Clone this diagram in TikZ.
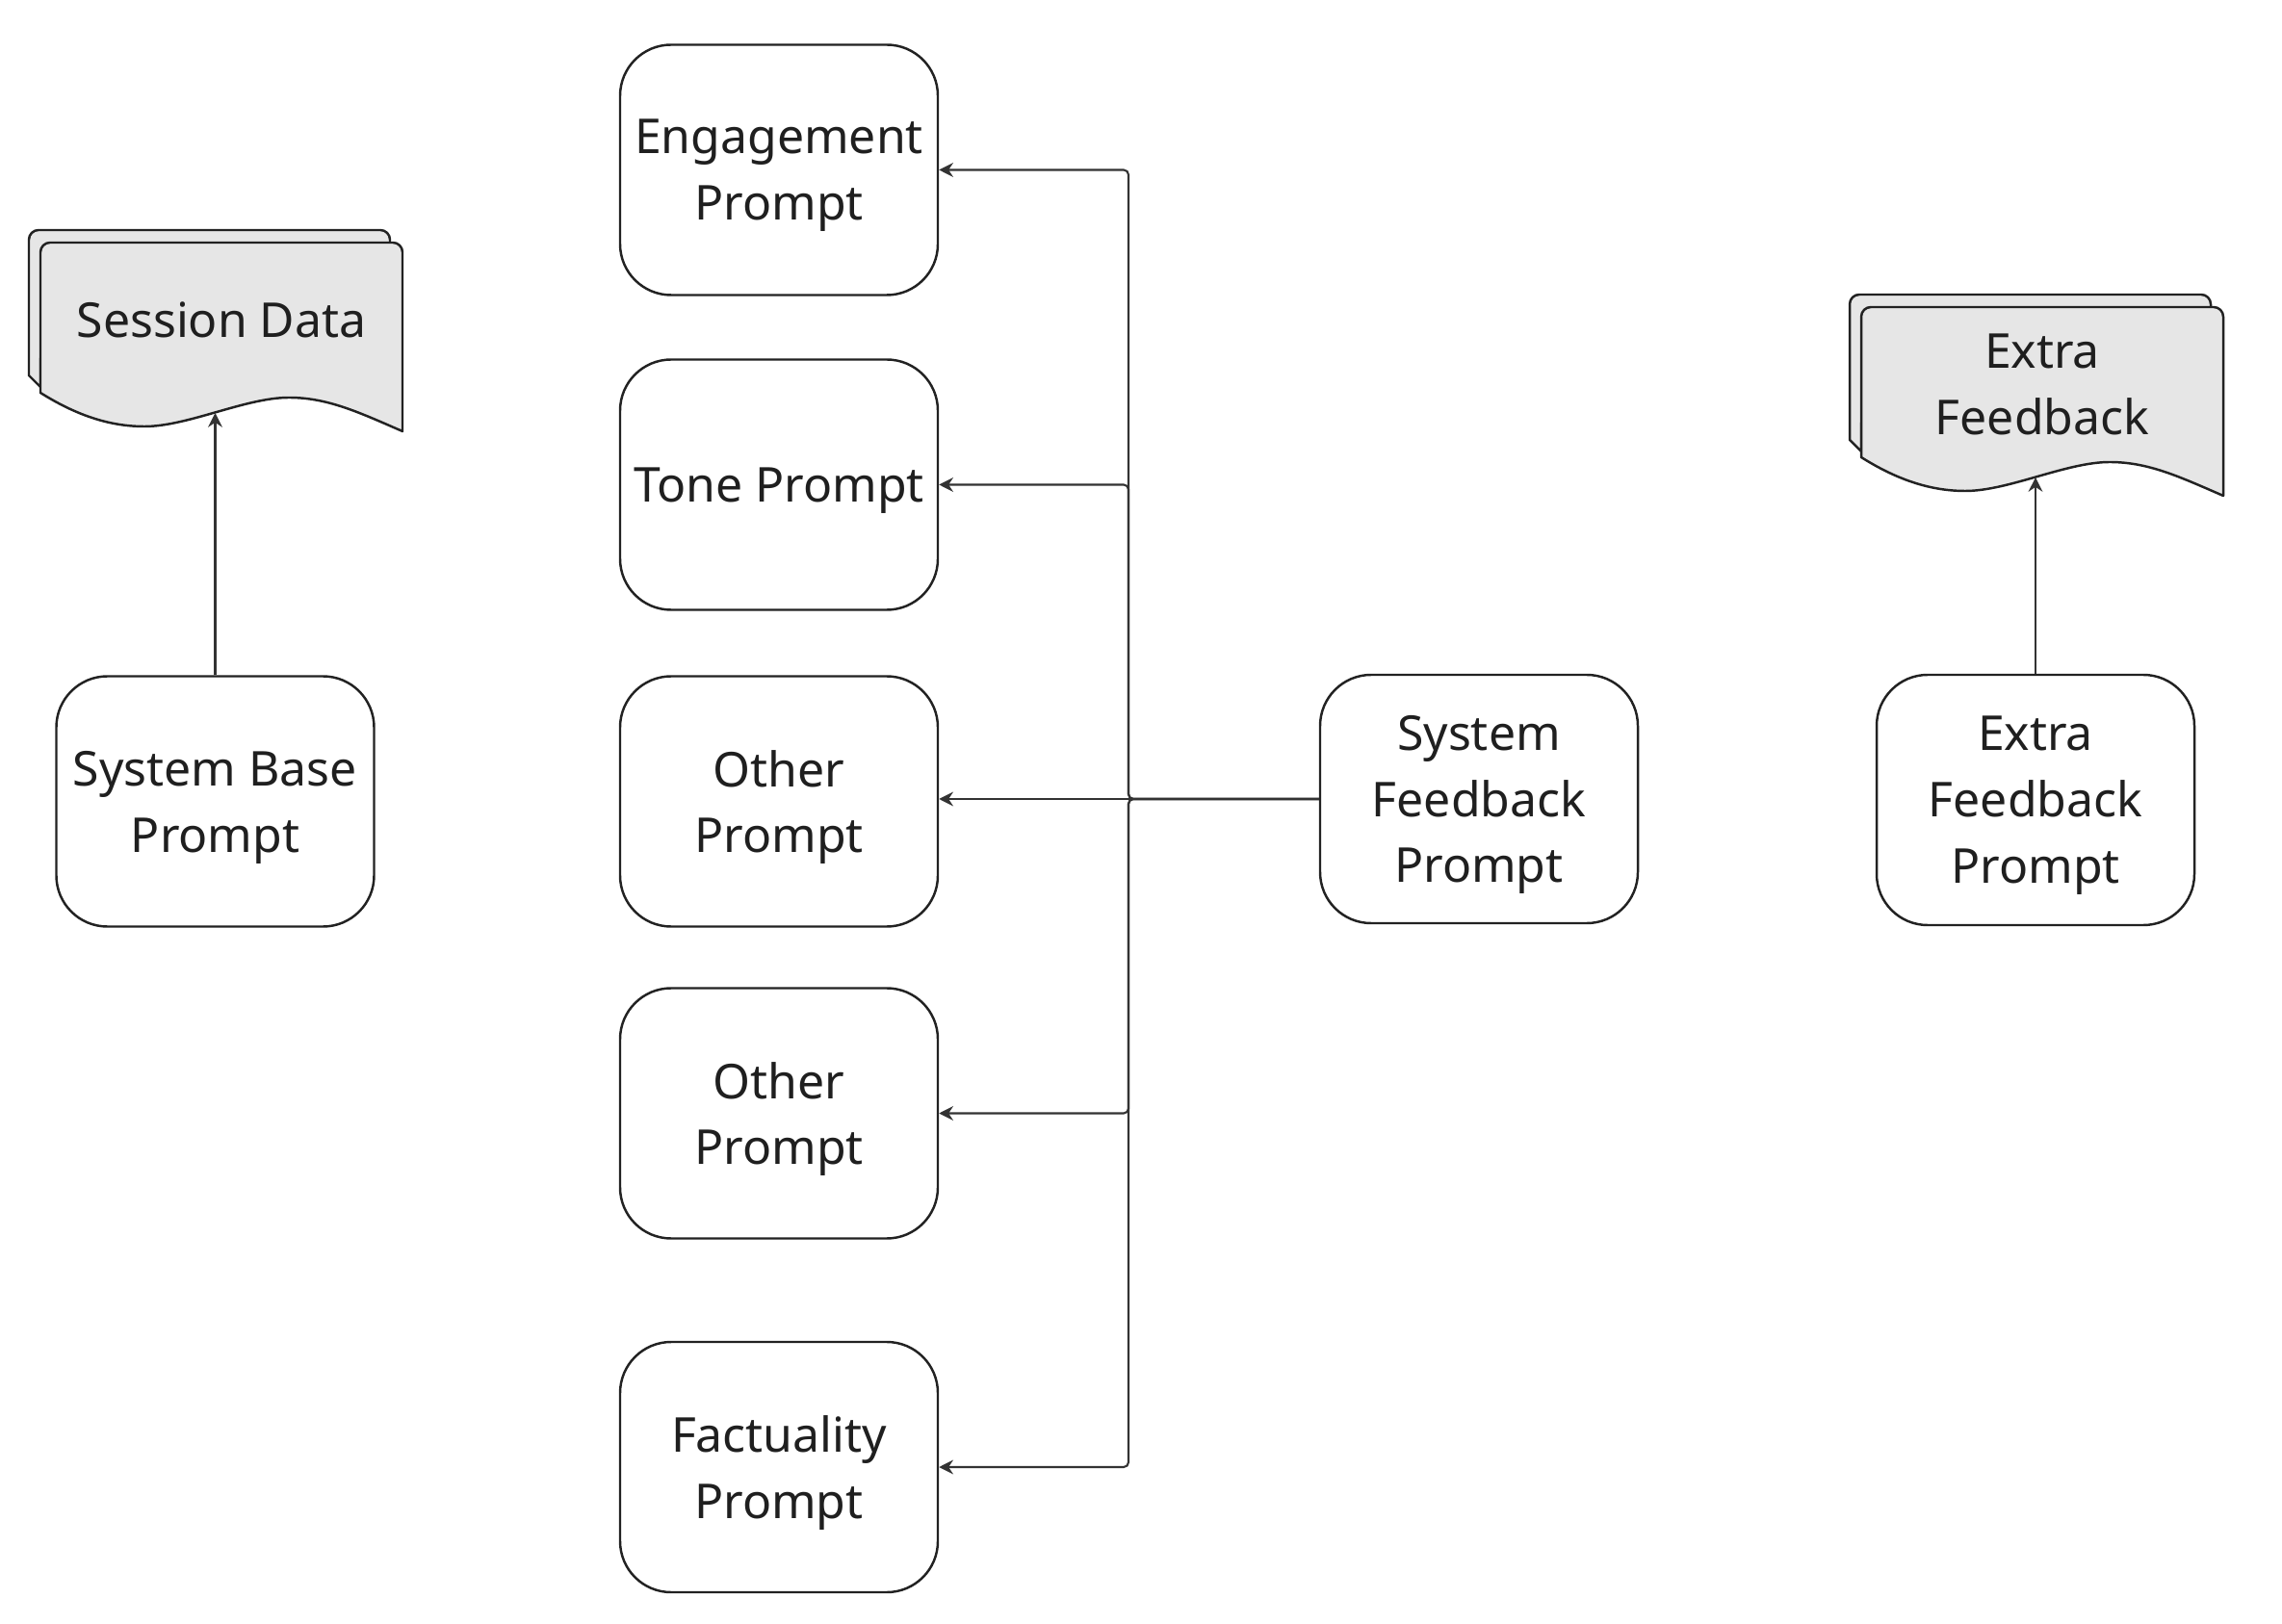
\documentclass[tikz,border=0pt]{standalone}
\usepackage{fontspec}
\setmainfont{Noto Sans}
\usetikzlibrary{arrows.meta}
\definecolor{ln}{HTML}{333333}
\definecolor{bx}{HTML}{222222}
\definecolor{docfill}{HTML}{E6E6E6}
\tikzset{
  box/.style={draw=bx, line width=0.7pt, rounded corners=0.53cm,
    minimum width=3.30cm, minimum height=2.60cm, align=center, inner sep=0pt,
    text depth=0pt, text=black!88, font=\fontsize{14.2}{19.6}\selectfont},
  lbl/.style={align=center, inner sep=0pt, text=black!88,
    font=\fontsize{14.2}{19.6}\selectfont},
  edge/.style={draw=ln, line width=0.6pt,
    -{Stealth[length=4.2pt,width=4.2pt,inset=1.4pt]}, rounded corners=0.05cm},
  docline/.style={draw=bx, line width=0.7pt, fill=docfill, line join=round}
}
\newcommand\docshape[2]{%
  \begin{scope}[shift={(#1,#2)}]
    \path[docline] (0,-1.50) -- (-0.12,-1.38) -- (-0.12,0.03)
      arc[start angle=180,end angle=90,radius=0.1] -- (3.53,0.13)
      arc[start angle=90,end angle=0,radius=0.1] -- (3.63,-1.2) -- (0,-1.2) -- cycle;
    \path[docline] (0,-1.56) -- (0,-0.1)
      arc[start angle=180,end angle=90,radius=0.1] -- (3.66,0)
      arc[start angle=90,end angle=0,radius=0.1] -- (3.76,-1.96)
      .. controls (3.30,-1.76) and (2.98,-1.61) .. (2.58,-1.61)
      .. controls (2.13,-1.61) and (1.53,-1.91) .. (1.08,-1.91)
      .. controls (0.70,-1.91) and (0.35,-1.78) .. (0,-1.56) -- cycle;
  \end{scope}}
\begin{document}
\begin{tikzpicture}
  \useasboundingbox (0,0) rectangle (23.70,-16.87);

  % documents
  \docshape{0.42}{-2.52}
  \node[lbl] (sd) at (2.30,-3.32) {Session Data};
  \coordinate (sdw) at (2.24,-4.29);

  \docshape{19.33}{-3.19}
  \node[lbl] (xf) at (21.21,-3.99) {Extra\\Feedback};
  \coordinate (xfw) at (21.15,-4.96);

  % boxes
  \node[box] (sb) at (2.235,-8.325) {System Base\\Prompt};
  \node[box] (eng) at (8.09,-1.765) {Engagement\\Prompt};
  \node[box] (tone) at (8.09,-5.035) {Tone Prompt};
  \node[box] (o1) at (8.09,-8.325) {Other\\Prompt};
  \node[box] (o2) at (8.09,-11.565) {Other\\Prompt};
  \node[box] (fac) at (8.09,-15.24) {Factuality\\Prompt};
  \node[box, minimum height=2.58cm] (sf) at (15.36,-8.30) {System\\Feedback\\Prompt};
  \node[box] (ef) at (21.14,-8.31) {Extra\\Feedback\\Prompt};

  \coordinate (tr) at (11.72,-8.30);

  % connectors
  \draw[edge] (sb.north) -- (sb.north |- sdw);
  \draw[edge] (ef.north) -- (ef.north |- xfw);
  \draw[edge] (sf.west) -- (tr) |- (eng.east);
  \draw[edge] (sf.west) -- (tr) |- (tone.east);
  \draw[edge] (sf.west) -- (o1.east |- sf.west);
  \draw[edge] (sf.west) -- (tr) |- (o2.east);
  \draw[edge] (sf.west) -- (tr) |- (fac.east);
\end{tikzpicture}
\end{document}
